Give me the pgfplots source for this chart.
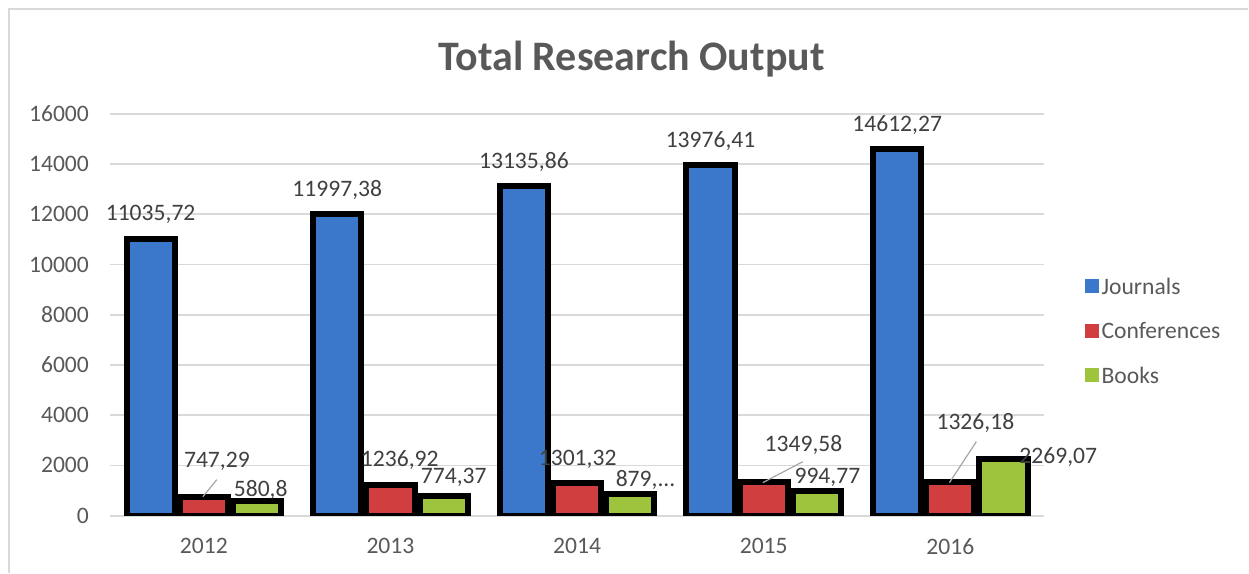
\documentclass[border=0pt]{standalone}
\usepackage{pgfplots}
\pgfplotsset{compat=1.18}
\usepackage{fontspec}
\setmainfont{Carlito}
\definecolor{textg}{HTML}{595959}
\definecolor{labelg}{HTML}{404040}
\definecolor{gridg}{HTML}{D9D9D9}
\definecolor{bMid}{HTML}{3B78CC}
\definecolor{rMid}{HTML}{D03E40}
\definecolor{gMid}{HTML}{9DC43C}
\begin{document}
\begin{tikzpicture}[x=1pt,y=1pt]
\path (0,0) rectangle (624.5,286.5);
\draw[color=gridg, line width=0.9pt] (4.5,0) -- (4.5,282) -- (624.5,282);
\node[anchor=base, font=\bfseries\fontsize{21}{25}\selectfont, text=textg] at (316,251) {Total Research Output};
\begin{axis}[
  at={(55pt,28.5pt)}, anchor=south west, scale only axis,
  width=467.5pt, height=201pt,
  xmin=-0.503, xmax=4.503, ymin=0, ymax=16000,
  xtick={0,1,2,3,4}, xticklabels={2012,2013,2014,2015,2016},
  ytick={0,2000,...,16000},
  axis line style={draw=none},
  major tick length=0pt,
  ymajorgrids, grid style={color=gridg, line width=0.9pt},
  ybar, bar width=0.258,
  clip mode=individual,
  /pgf/number format/assume math mode=true,
  /pgf/number format/1000 sep={},
  scaled y ticks=false,
  tick label style={font=\fontsize{11.8}{14}\selectfont, text=textg},
  yticklabel style={xshift=-7pt},
  xticklabel style={yshift=-8pt},
  legend style={at={(1.0428,0.46)}, anchor=west, draw=none, fill=none,
    inner sep=0pt, row sep=11.3pt,
    font=\fontsize{11.8}{14}\selectfont, text=textg,
    nodes={text height=8pt, text depth=0pt, inner sep=1.5pt}},
  legend cell align=left,
  mylegend/.style={legend image code/.code={\path[##1, draw=none, line width=0pt] (0pt,-3.5pt) rectangle (7pt,3.5pt);}},
]
\addplot[draw=black, line width=3pt, fill=bMid, bar shift=-0.285, mylegend,
  nodes near coords={\pgfmathprintnumber[fixed,precision=2,use comma,1000 sep={}]{\pgfplotspointmeta}},
  every node near coord/.append style={anchor=center, yshift=12pt, font=\fontsize{11.8}{14}\selectfont, text=labelg}]
  coordinates {(0,11035.72) (1,11997.38) (2,13135.86) (3,13976.41) (4,14612.27)};
\addlegendentry{Journals}
\addplot[draw=black, line width=3pt, fill=rMid, bar shift=0, mylegend]
  coordinates {(0,747.29) (1,1236.92) (2,1301.32) (3,1349.58) (4,1326.18)};
\addlegendentry{Conferences}
\addplot[draw=black, line width=3pt, fill=gMid, bar shift=0.285, mylegend]
  coordinates {(0,580.8) (1,774.37) (2,879.5) (3,994.77) (4,2269.07)};
\addlegendentry{Books}
% leader lines
\draw[color=gray!70, line width=0.6pt] (axis cs:-0.005,756) -- (axis cs:0.070,1433);
\draw[color=gray!70, line width=0.6pt] (axis cs:2.995,1313) -- (axis cs:3.209,2149);
\draw[color=gray!70, line width=0.6pt] (axis cs:3.995,1313) -- (axis cs:4.139,2945);
% conference labels
\begin{scope}[every node/.style={font=\fontsize{11.8}{14}\selectfont, text=labelg, inner sep=0pt}]
\node at (axis cs:0.070,2149) {747,29};
\node at (axis cs:1.050,2229) {1236,92};
\node at (axis cs:2.003,2229) {1301,32};
\node at (axis cs:3.213,2826) {1349,58};
\node at (axis cs:4.134,3701) {1326,18};
% book labels
\node at (axis cs:0.305,1035) {580,8};
\node at (axis cs:1.339,1512) {774,37};
\node at (axis cs:2.367,1433) {879,...};
\node at (axis cs:3.341,1512) {994,77};
\node at (axis cs:4.578,2348) {2269,07};
\end{scope}
\end{axis}
\end{tikzpicture}
\end{document}
